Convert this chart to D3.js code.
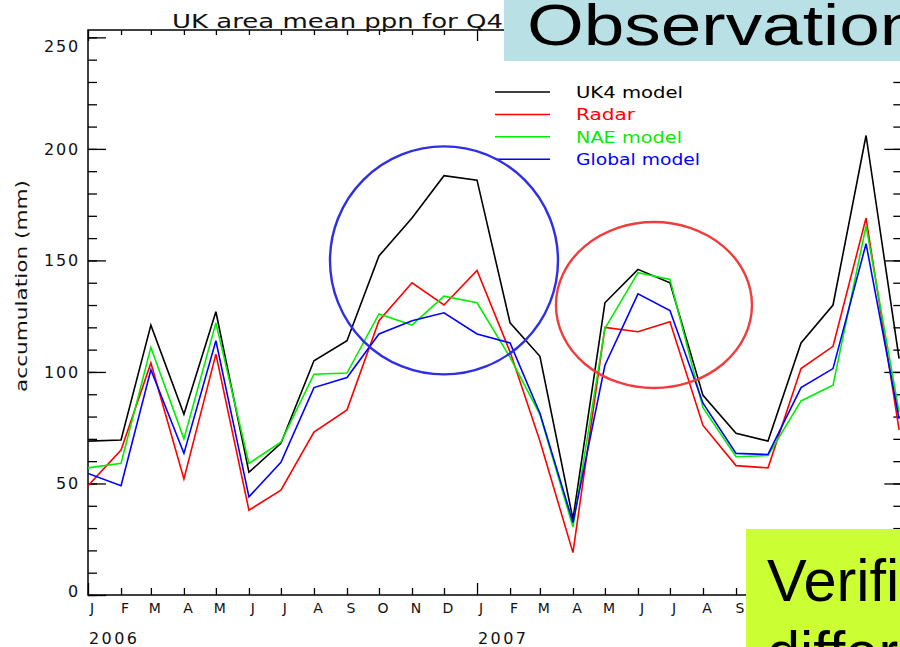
<!DOCTYPE html>
<html><head><meta charset="utf-8">
<script src="https://cdn.jsdelivr.net/npm/d3@7"></script>
<style>html,body{margin:0;padding:0;background:#fff;overflow:hidden}</style>
</head><body><svg id="c" width="900" height="647"></svg>
<script>
// ---- data ----
const monthStarts = ["2006-01","2006-02","2006-03","2006-04","2006-05","2006-06","2006-07","2006-08","2006-09","2006-10","2006-11","2006-12",
  "2007-01","2007-02","2007-03","2007-04","2007-05","2007-06","2007-07","2007-08","2007-09","2007-10","2007-11","2007-12","2008-01","2008-02"];
const monthLetters = ["J","F","M","A","M","J","J","A","S","O","N","D","J","F","M","A","M","J","J","A","S","O","N","D","J","F"];
const yearLabels = ["2006","2007","2008"];
const uk4    = [69, 69.5, 121, 81, 127, 55, 68, 105, 114, 152, 169, 188, 186, 122, 107, 34, 131, 146, 140, 89.5, 72.5, 69, 113, 130, 206, 106];
const radar  = [49, 65, 104, 52, 108, 38, 47, 73, 83, 123, 140, 130, 145.5, 109, 69, 19, 120, 118, 122.5, 76, 58, 57, 101.5, 111.5, 169, 74];
const nae    = [57, 59, 111, 70, 122, 59, 68.5, 99, 99.5, 126, 121, 134, 131, 106.5, 81, 30.5, 119.5, 144.5, 141.5, 84, 62, 62.5, 87, 94, 165.5, 82];
const globalModel = [54.5, 49, 101, 63.5, 114, 44, 59.5, 93, 97.5, 117, 123, 126.5, 117, 113, 81.5, 32.5, 103, 135, 127.5, 86, 63.5, 63, 93, 101.5, 157.5, 79];
const seriesNames = ["UK4 model","Radar","NAE model","Global model"];
const seriesColors = ["#000000","#ff0000","#00ee00","#0000ff"];
const yMajorTicks = [0,50,100,150,200,250];
const yMinorTicks = d3.range(0,254,10);
const titleText = "UK area mean ppn for Q4";
const yAxisTitle = "accumulation (mm)";
const boxTop = {text:"Observations", fill:"#b9e0e4"};
const boxBottom = {lines:["Verification","differences"], fill:"#ccff33"};
const annotations = [
  {month:"2006-12-01", value:150, rx:114, ry:114, color:"#2e2ee6"},
  {month:"2007-06-16", value:130, rx:98, ry:83, color:"#f03c3c"}
];

// ---- layout ----
const svg = d3.select("#c");
const FONT = "DejaVu Sans, sans-serif";
const parseM = d3.utcParse("%Y-%m");
const parseD = d3.utcParse("%Y-%m-%d");
const dates = monthStarts.map(parseM);
const pL = 88, pR = 902.3, pT = 30, pB = 595;
const vBoxX = 746;
const x = d3.scaleUtc().domain([parseD("2006-01-01"), parseD("2008-02-04")]).range([pL, pR]);
const y = d3.scaleLinear().domain([0, 253.3]).range([pB, pT]);

const axisStyle = g => { g.selectAll(".domain").remove(); g.selectAll("line").attr("stroke","#000").attr("stroke-width",1.3); g.selectAll("text").remove(); };
const jan = dates.filter(d => d.getUTCMonth() === 0);
const nonJan = dates.filter(d => d.getUTCMonth() !== 0);

// frame
svg.append("rect").attr("x",pL).attr("y",pT).attr("width",pR-pL).attr("height",pB-pT)
  .attr("fill","none").attr("stroke","#000").attr("stroke-width",1.5);

// bottom ticks
svg.append("g").attr("transform",`translate(0,${pB})`).call(d3.axisBottom(x).tickValues(nonJan).tickSize(-7)).call(axisStyle);
svg.append("g").attr("transform",`translate(0,${pB})`).call(d3.axisBottom(x).tickValues(jan).tickSize(-12)).call(axisStyle);
// top ticks
svg.append("g").attr("transform",`translate(0,${pT})`).call(d3.axisTop(x).tickValues(nonJan).tickSize(-5)).call(axisStyle);
svg.append("g").attr("transform",`translate(0,${pT})`).call(d3.axisTop(x).tickValues(jan).tickSize(-11)).call(axisStyle);
// left / right ticks
svg.append("g").attr("transform",`translate(${pL},0)`).call(d3.axisLeft(y).tickValues(yMinorTicks).tickSize(-9)).call(axisStyle);
svg.append("g").attr("transform",`translate(${pL},0)`).call(d3.axisLeft(y).tickValues(yMajorTicks).tickSize(-18)).call(axisStyle);
svg.append("g").attr("transform",`translate(${pR},0)`).call(d3.axisRight(y).tickValues(yMinorTicks).tickSize(-9)).call(axisStyle);
svg.append("g").attr("transform",`translate(${pR},0)`).call(d3.axisRight(y).tickValues(yMajorTicks).tickSize(-18)).call(axisStyle);

// y labels
svg.append("g").selectAll("text").data(yMajorTicks).join("text")
  .attr("x", pL-8).attr("y", d => Math.min(Math.max(y(d), pT+16), pB-4))
  .attr("dy","0.36em").attr("text-anchor","end")
  .attr("font-family",FONT).attr("font-size",16).attr("letter-spacing",1.8).attr("fill","#111")
  .text(d => d);

// month labels (those hidden behind the slide box are not drawn)
const monthIdx = d3.range(dates.length).filter(i => x(dates[i]) < vBoxX);
svg.append("g").selectAll("text").data(monthIdx).join("text")
  .attr("x", i => x(dates[i])+4).attr("y", 613).attr("text-anchor","middle")
  .attr("font-family",FONT).attr("font-size",14).attr("fill","#111")
  .text(i => monthLetters[i]);
const janVisible = jan.filter(d => x(d) < vBoxX);
svg.append("g").selectAll("text").data(janVisible).join("text")
  .attr("x", d => x(d)+1).attr("y", 644)
  .attr("font-family",FONT).attr("font-size",16).attr("letter-spacing",2.4).attr("fill","#111")
  .text((d,i) => yearLabels[i]);

// titles
svg.append("text").attr("x",172).attr("y",28).attr("font-family",FONT).attr("font-size",19)
  .attr("textLength",331).attr("lengthAdjust","spacingAndGlyphs").attr("fill","#111").text(titleText);
svg.append("text").attr("transform",`translate(27,${(180+392)/2}) rotate(-90)`).attr("text-anchor","middle")
  .attr("font-family",FONT).attr("font-size",16).attr("textLength",212).attr("lengthAdjust","spacingAndGlyphs")
  .attr("fill","#111").text(yAxisTitle);

// lines
svg.append("clipPath").attr("id","plotclip").append("rect").attr("x",pL).attr("y",pT).attr("width",pR-pL).attr("height",pB-pT);
const series = [uk4, radar, nae, globalModel];
const line = d3.line().x((d,i) => x(dates[i])).y(d => y(d));
svg.append("g").attr("clip-path","url(#plotclip)").selectAll("path").data(series).join("path")
  .attr("d", line).attr("fill","none").attr("stroke",(d,i)=>seriesColors[i]).attr("stroke-width",1.6)
  .attr("stroke-linejoin","miter");

// legend
const lg = svg.append("g");
seriesNames.forEach((n,i) => {
  const ly = 92 + i*22.4;
  lg.append("line").attr("x1",495).attr("x2",550).attr("y1",ly).attr("y2",ly).attr("stroke",seriesColors[i]).attr("stroke-width",1.5);
  const tl = [107,59,106,124][i];
  lg.append("text").attr("x",576).attr("y",ly+6).attr("font-family",FONT).attr("font-size",16)
    .attr("textLength",tl).attr("lengthAdjust","spacingAndGlyphs").attr("fill",seriesColors[i]).text(n);
});

// annotation ellipses
svg.append("g").selectAll("ellipse").data(annotations).join("ellipse")
  .attr("cx", d => x(parseD(d.month))).attr("cy", d => y(d.value)).attr("rx", d=>d.rx).attr("ry", d=>d.ry)
  .attr("fill","none").attr("stroke", d=>d.color).attr("stroke-width",2.4);

// slide boxes
svg.append("rect").attr("x",504).attr("y",-5).attr("width",420).attr("height",66).attr("fill",boxTop.fill);
svg.append("text").attr("transform","translate(527,45) scale(1.28,1)").attr("font-family","Liberation Sans, Arial, sans-serif")
  .attr("font-size",57).attr("fill","#000").text(boxTop.text);
svg.append("rect").attr("x",vBoxX).attr("y",529).attr("width",200).attr("height",140).attr("fill",boxBottom.fill);
boxBottom.lines.forEach((t,i) => {
  svg.append("text").attr("transform",`translate(767,${601+i*72})`).attr("font-family","Liberation Sans, Arial, sans-serif")
    .attr("font-size",59.5).attr("fill","#000").text(t);
});
</script></body></html>
